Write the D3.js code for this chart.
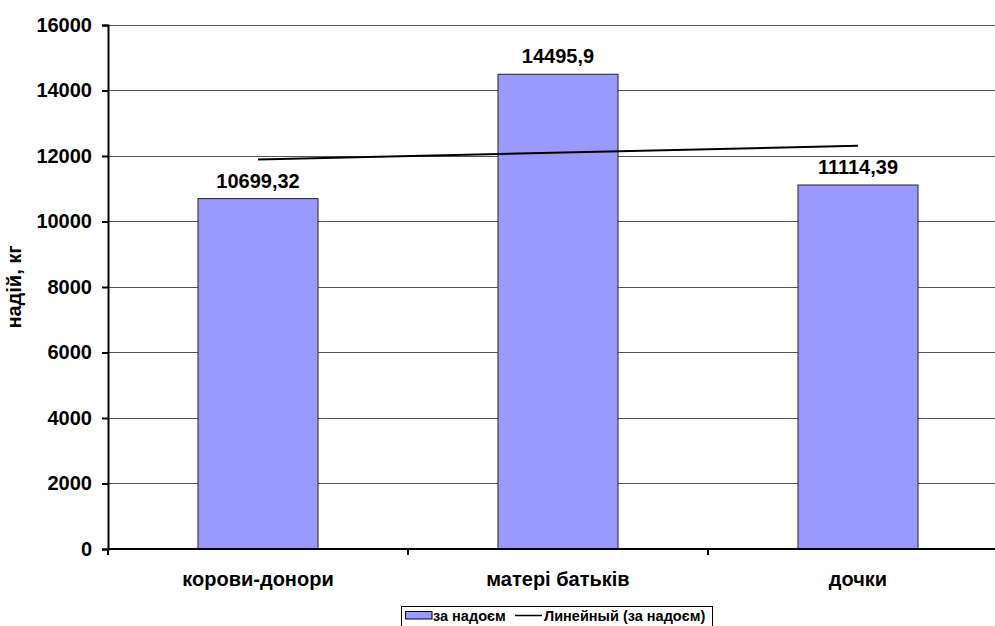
<!DOCTYPE html>
<html>
<head>
<meta charset="utf-8">
<script src="https://cdn.jsdelivr.net/npm/d3@7/dist/d3.min.js"></script>
<style>
  html, body { margin: 0; padding: 0; background: #fff; }
  svg { display: block; font-family: "Liberation Sans", Arial, sans-serif; }
</style>
</head>
<body>
<svg id="chart" width="995" height="626"></svg>
<script>
const categories = ["корови-донори", "матері батьків", "дочки"];
const values = [10699.32, 14495.9, 11114.39];
const valueLabels = ["10699,32", "14495,9", "11114,39"];
const yTicks = [0, 2000, 4000, 6000, 8000, 10000, 12000, 14000, 16000];
const yTitle = "надій, кг";
const seriesName = "за надоєм";
const trendName = "Линейный (за надоєм)";

(function () {
const svg = d3.select("#chart");
const pLeft = 108, pRight = 1008, pTop = 25, pBottom = 549;
const FS = 20;

const x = d3.scaleBand().domain(categories).range([pLeft, pRight]).paddingInner(0.6).paddingOuter(0.3);
const y = d3.scaleLinear().domain([0, 16000]).range([pBottom, pTop]);

// gridlines
svg.append("g").selectAll("line").data(yTicks.filter(d => d > 0)).join("line")
  .attr("x1", pLeft).attr("x2", pRight)
  .attr("y1", d => y(d)).attr("y2", d => y(d))
  .attr("stroke", "#555").attr("stroke-width", 1).attr("shape-rendering", "crispEdges");

// bars
svg.append("g").selectAll("rect").data(values).join("rect")
  .attr("x", (d, i) => x(categories[i]))
  .attr("y", d => y(d))
  .attr("width", x.bandwidth())
  .attr("height", d => y(0) - y(d))
  .attr("fill", "#9999FF").attr("stroke", "#222").attr("stroke-width", 1);

// trendline (least squares on index)
const n = values.length;
const xs = d3.range(n);
const mx = d3.mean(xs), my = d3.mean(values);
const slope = d3.sum(xs, (xi, i) => (xi - mx) * (values[i] - my)) / d3.sum(xs, xi => (xi - mx) ** 2);
const icpt = my - slope * mx;
const cx = i => x(categories[i]) + x.bandwidth() / 2;
svg.append("line")
  .attr("x1", cx(0)).attr("y1", y(icpt))
  .attr("x2", cx(n - 1)).attr("y2", y(icpt + slope * (n - 1)))
  .attr("stroke", "#000").attr("stroke-width", 2);

// value labels
svg.append("g").selectAll("text").data(values).join("text")
  .attr("x", (d, i) => cx(i))
  .attr("y", d => y(d) - 11)
  .attr("text-anchor", "middle")
  .attr("font-size", FS).attr("font-weight", "bold").attr("fill", "#000")
  .text((d, i) => valueLabels[i]);

// y axis
const yAxis = d3.axisLeft(y).tickValues(yTicks).tickSize(6).tickPadding(10).tickFormat(d3.format("d"));
const gy = svg.append("g").attr("transform", `translate(${pLeft},0)`).call(yAxis);
gy.select(".domain").attr("stroke", "#000").attr("stroke-width", 2);
gy.selectAll(".tick line").attr("stroke", "#000").attr("stroke-width", 2);
gy.selectAll(".tick text").attr("font-size", FS).attr("font-weight", "bold").attr("fill", "#000")
  .attr("font-family", "Liberation Sans, Arial, sans-serif");

// x axis
const gx = svg.append("g").attr("transform", `translate(0,${pBottom})`);
gx.append("line").attr("x1", pLeft).attr("x2", pRight).attr("y1", 0).attr("y2", 0)
  .attr("stroke", "#000").attr("stroke-width", 2);
const step = x.step();
const boundaries = d3.range(n + 1).map(i => pLeft + i * step);
gx.selectAll("line.tk").data(boundaries).join("line").attr("class", "tk")
  .attr("x1", d => d).attr("x2", d => d).attr("y1", 0).attr("y2", 6)
  .attr("stroke", "#000").attr("stroke-width", 2);
gx.selectAll("text.cat").data(categories).join("text").attr("class", "cat")
  .attr("x", (d, i) => cx(i)).attr("y", 37)
  .attr("text-anchor", "middle")
  .attr("font-size", FS).attr("font-weight", "bold").attr("fill", "#000")
  .text(d => d);

// y title
svg.append("text")
  .attr("transform", `translate(21,${(pTop + pBottom) / 2}) rotate(-90)`)
  .attr("text-anchor", "middle")
  .attr("font-size", FS).attr("font-weight", "bold").attr("fill", "#000")
  .text(yTitle);

// legend
const lg = svg.append("g").attr("transform", "translate(401,606)");
lg.append("rect").attr("x", 0.5).attr("y", 0.5).attr("width", 311).attr("height", 30)
  .attr("fill", "#fff").attr("stroke", "#000").attr("stroke-width", 1);
lg.append("rect").attr("x", 4.5).attr("y", 5.5).attr("width", 26.5).attr("height", 7.5)
  .attr("fill", "#9999FF").attr("stroke", "#000").attr("stroke-width", 1);
lg.append("text").attr("x", 32).attr("y", 14.7).attr("font-size", 14.5).attr("font-weight", "bold")
  .attr("fill", "#000").text(seriesName);
lg.append("line").attr("x1", 114).attr("x2", 141).attr("y1", 9.5).attr("y2", 9.5)
  .attr("stroke", "#000").attr("stroke-width", 1.5);
lg.append("text").attr("x", 143).attr("y", 14.7).attr("font-size", 14.5).attr("font-weight", "bold")
  .attr("fill", "#000").text(trendName);
})();
</script>
</body>
</html>
